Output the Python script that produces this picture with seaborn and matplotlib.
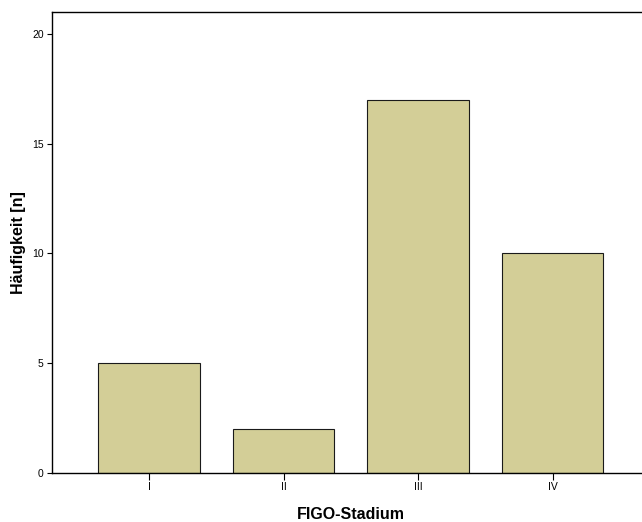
import matplotlib
matplotlib.use("Agg")
import matplotlib.pyplot as plt
import seaborn as sns
import pandas as pd

stadien=["I","II","III","IV"]
haeufigkeit=[5,2,17,10]

BAR_COLOUR="#d3ce97"

sns.set_style("ticks")
plt.rcParams["font.family"]=["Liberation Sans","DejaVu Sans"]

df=pd.DataFrame({"FIGO-Stadium":stadien,"n":haeufigkeit})

fig=plt.figure(figsize=(6.42,5.22),dpi=100)
# axes runs a bit past the right edge, like the original export
ax=fig.add_axes([0.0805,0.0948,0.932,0.8828])

sns.barplot(
    data=df,
    x="FIGO-Stadium",
    y="n",
    color=BAR_COLOUR,
    saturation=1,
    width=0.755,
    edgecolor="#1a1a1a",
    linewidth=0.8,
    ax=ax,
)

ax.set_xlim(-0.724,3.724)
ax.set_ylim(0,21.04)
ax.set_yticks([0,5,10,15,20])

for side in ["left","bottom","top","right"]:
    ax.spines[side].set_visible(True)
    ax.spines[side].set_color("black")
    ax.spines[side].set_linewidth(1.0)

ax.tick_params(axis="y",length=3.6,width=0.8,pad=2.2,labelsize=7.5,colors="black")
ax.tick_params(axis="x",length=4.7,width=0.8,pad=2.4,labelsize=7.5,colors="black")

ax.set_xlabel("FIGO-Stadium",fontsize=11.5,fontweight="bold",va="baseline",color="black")
ax.xaxis.set_label_coords(0.5,-0.1009)
ax.set_ylabel("Häufigkeit [n]",fontsize=11.5,fontweight="bold",va="baseline",
              rotation_mode="anchor",color="black")
ax.yaxis.set_label_coords(-0.0475,0.5)

fig.savefig("out.png",dpi=100)
